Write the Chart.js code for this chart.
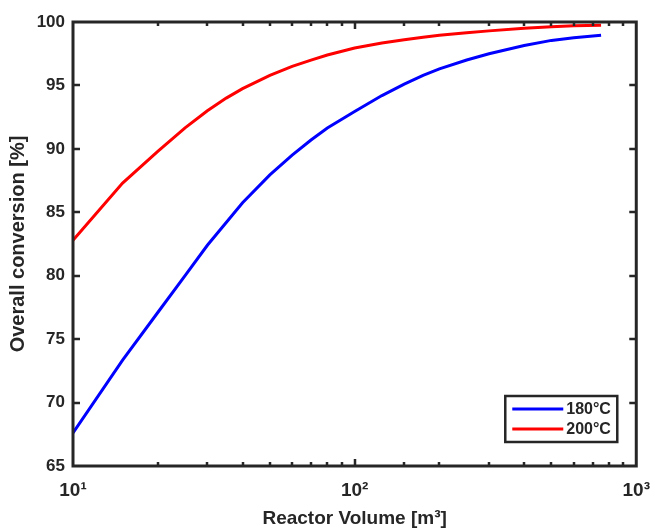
<!DOCTYPE html>
<html>
<head>
<meta charset="utf-8">
<script src="https://cdn.jsdelivr.net/npm/chart.js@4"></script>
<style>
  html, body { margin: 0; padding: 0; background: #fff; }
  canvas { display: block; }
</style>
</head>
<body>
<canvas id="conv" width="655" height="528"></canvas>
<script>
// reactor volume [m3] and overall conversion [%]
const volume = [10, 15, 20, 25, 30, 35, 40, 50, 60, 70, 80, 100, 125, 150, 175, 200, 250, 300, 400, 500, 600, 750];
const conv180 = [67.6, 73.35, 77.1, 80.0, 82.4, 84.2, 85.75, 87.95, 89.5, 90.7, 91.65, 92.95, 94.2, 95.1, 95.8, 96.3, 97.0, 97.5, 98.15, 98.55, 98.75, 98.95];
const conv200 = [82.8, 87.3, 89.8, 91.65, 93.0, 94.0, 94.75, 95.8, 96.5, 97.0, 97.4, 97.95, 98.35, 98.6, 98.8, 98.95, 99.15, 99.3, 99.5, 99.62, 99.7, 99.75];
const seriesNames = ["180°C", "200°C"];
const xTickLabels = { 10: "10¹", 100: "10²", 1000: "10³" };

const ink = "#262626";
const fam = "'Liberation Sans', Arial, sans-serif";

// box around the axes, ticks pointing inwards, legend in a frame
const frame = {
    id: "frame",
    afterDatasetsDraw(chart) {
        const { ctx, chartArea: a, scales } = chart;
        ctx.save();
        ctx.strokeStyle = ink;
        ctx.lineWidth = 2.5;
        scales.x.ticks.forEach(t => {
            if (t.value <= 10 || t.value >= 1000) return;
            const px = Math.round(scales.x.getPixelForValue(t.value));
            const len = xTickLabels[t.value] ? 7 : 4;
            ctx.beginPath();
            ctx.moveTo(px, a.bottom); ctx.lineTo(px, a.bottom - len);
            ctx.moveTo(px, a.top); ctx.lineTo(px, a.top + len);
            ctx.stroke();
        });
        scales.y.ticks.forEach(t => {
            if (t.value <= 65 || t.value >= 100) return;
            const py = Math.round(scales.y.getPixelForValue(t.value));
            ctx.beginPath();
            ctx.moveTo(a.left, py); ctx.lineTo(a.left + 7, py);
            ctx.moveTo(a.right, py); ctx.lineTo(a.right - 7, py);
            ctx.stroke();
        });
        ctx.lineWidth = 3;
        ctx.strokeRect(a.left, a.top, a.right - a.left, a.bottom - a.top);

        // legend
        const lx = a.right - 131, ly = a.bottom - 70, lw = 112, lh = 46;
        ctx.fillStyle = "#fff";
        ctx.fillRect(lx, ly, lw, lh);
        ctx.lineWidth = 2.5;
        ctx.strokeRect(lx, ly, lw, lh);
        ctx.font = "bold 16px " + fam;
        ctx.textBaseline = "middle";
        chart.data.datasets.forEach((ds, i) => {
            const y = ly + 13 + i * 20;
            ctx.strokeStyle = ds.borderColor;
            ctx.lineWidth = 3;
            ctx.beginPath();
            ctx.moveTo(lx + 7, y); ctx.lineTo(lx + 58, y);
            ctx.stroke();
            ctx.fillStyle = ink;
            ctx.fillText(ds.label, lx + 61, y + 1);
        });
        ctx.restore();
    }
};

new Chart(document.getElementById("conv"), {
    type: "line",
    data: {
        datasets: [
            {
                label: seriesNames[0],
                data: volume.map((v, i) => ({ x: v, y: conv180[i] })),
                borderColor: "#0000ff",
                borderWidth: 3,
                pointRadius: 0,
                tension: 0,
                fill: false
            },
            {
                label: seriesNames[1],
                data: volume.map((v, i) => ({ x: v, y: conv200[i] })),
                borderColor: "#ff0000",
                borderWidth: 3,
                pointRadius: 0,
                tension: 0,
                fill: false
            }
        ]
    },
    options: {
        responsive: false,
        animation: false,
        layout: { padding: { left: 0, top: 22, right: 10, bottom: 0 } },
        plugins: { legend: { display: false }, tooltip: { enabled: false } },
        scales: {
            x: {
                type: "logarithmic",
                min: 10,
                max: 1000,
                grid: { display: false },
                border: { display: false },
                afterFit: s => { s.height = 62; },
                ticks: {
                    autoSkip: false,
                    maxRotation: 0,
                    padding: 5,
                    color: ink,
                    font: { family: fam, size: 19, weight: "bold" },
                    callback: v => xTickLabels[v] || ""
                },
                title: {
                    display: true,
                    text: "Reactor Volume [m³]",
                    color: ink,
                    padding: { top: 0, bottom: 0 },
                    font: { family: fam, size: 19, weight: "bold", lineHeight: 1 }
                }
            },
            y: {
                min: 65,
                max: 100,
                grid: { display: false },
                border: { display: false },
                afterFit: s => { s.width = 73; },
                ticks: {
                    stepSize: 5,
                    padding: 0,
                    color: ink,
                    font: { family: fam, size: 17, weight: "bold" }
                },
                title: {
                    display: true,
                    text: "Overall conversion [%]",
                    color: ink,
                    padding: { top: 8, bottom: 0 },
                    font: { family: fam, size: 20, weight: "bold", lineHeight: 1 }
                }
            }
        }
    },
    plugins: [frame]
});
</script>
</body>
</html>
